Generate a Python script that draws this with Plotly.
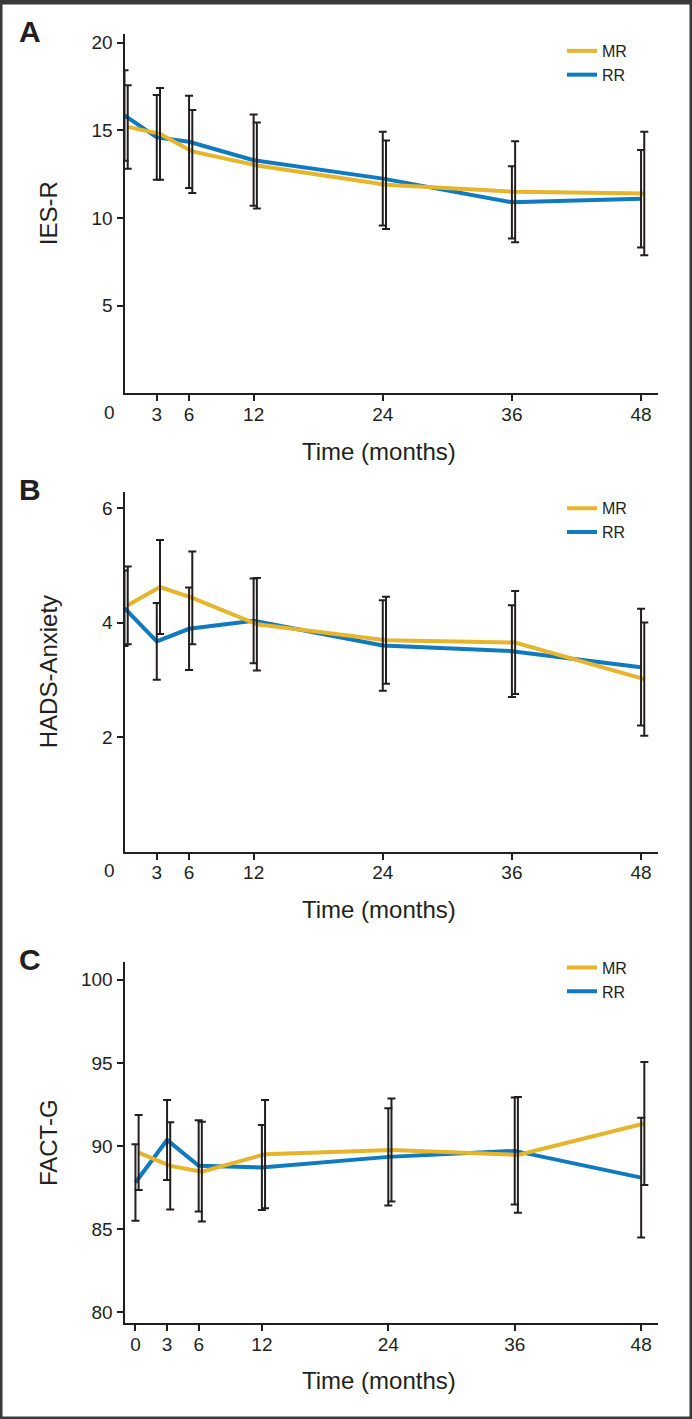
import plotly.graph_objects as go

# time points (months)
months = [0, 3, 6, 12, 24, 36, 48]

# A: IES-R
mr_ies = [15.2, 14.8, 13.8, 13.0, 11.9, 11.5, 11.4]
mr_ies_err = [2.38, 2.62, 2.37, 2.45, 2.52, 2.88, 3.52]
rr_ies = [15.85, 14.6, 14.35, 13.3, 12.25, 10.9, 11.1]
rr_ies_err = [2.58, 2.42, 2.63, 2.6, 2.67, 2.06, 2.78]

# B: HADS-Anxiety
mr_hads = [4.30, 4.62, 4.43, 3.97, 3.69, 3.65, 3.01]
mr_hads_err = [0.68, 0.82, 0.81, 0.81, 0.76, 0.90, 0.99]
rr_hads = [4.25, 3.67, 3.89, 4.03, 3.60, 3.50, 3.22]
rr_hads_err = [0.66, 0.67, 0.72, 0.74, 0.79, 0.80, 1.02]

# C: FACT-G
mr_fact = [89.6, 88.8, 88.45, 89.5, 89.76, 89.46, 91.35]
mr_fact_err = [2.26, 2.63, 3.0, 3.26, 3.1, 3.48, 3.7]
rr_fact = [87.8, 90.36, 88.8, 88.7, 89.34, 89.7, 88.09]
rr_fact_err = [2.3, 2.41, 2.75, 2.56, 2.93, 3.22, 3.6]

W, H = 692, 1419
FONT = 'Liberation Sans, Arial, sans-serif'
INK = '#231f20'
YELLOW = '#e6b52c'
BLUE = '#0f7abf'
MR_SHIFT = 0.3  # MR drawn slightly right of RR so the bars don't overlap


def fx(x):
    return x / W


def fy(y):
    return 1 - y / H


panels = [
    dict(name='A', title='IES-R', mr=mr_ies, mr_err=mr_ies_err, rr=rr_ies, rr_err=rr_ies_err,
         top=32, bottom=392, yrange=[0, 20.5], yticks=[5, 10, 15, 20],
         xrange=[0, 49.53], xticks=[3, 6, 12, 24, 36, 48], zero_label=True,
         leg_top=32),
    dict(name='B', title='HADS-Anxiety', mr=mr_hads, mr_err=mr_hads_err, rr=rr_hads, rr_err=rr_hads_err,
         top=490.7, bottom=850.7, yrange=[0, 6.28], yticks=[2, 4, 6],
         xrange=[0, 49.53], xticks=[3, 6, 12, 24, 36, 48], zero_label=True,
         leg_top=490),
    dict(name='C', title='FACT-G', mr=mr_fact, mr_err=mr_fact_err, rr=rr_fact, rr_err=rr_fact_err,
         top=961.7, bottom=1322.7, yrange=[79.35, 101.05], yticks=[80, 85, 90, 95, 100],
         xrange=[-1.04, 49.55], xticks=[0, 3, 6, 12, 24, 36, 48], zero_label=False,
         leg_top=950),
]

fig = go.Figure()
annotations = []
layout = {}

for i, p in enumerate(panels):
    n = '' if i == 0 else str(i + 1)
    xa, ya, leg = 'x' + n, 'y' + n, 'legend' + n
    mr_x = [m + MR_SHIFT for m in months]

    fig.add_trace(go.Scatter(x=months, y=p['rr'], mode='lines', name='RR',
                             line=dict(color=BLUE, width=4), xaxis=xa, yaxis=ya,
                             legend=leg, legendrank=2))
    fig.add_trace(go.Scatter(x=mr_x, y=p['mr'], mode='lines', name='MR',
                             line=dict(color=YELLOW, width=4), xaxis=xa, yaxis=ya,
                             legend=leg, legendrank=1))
    # error bars on top of the lines
    for xs, ys, err in [(months, p['rr'], p['rr_err']), (mr_x, p['mr'], p['mr_err'])]:
        fig.add_trace(go.Scatter(x=xs, y=ys, mode='markers', marker=dict(size=1, opacity=0),
                                 error_y=dict(type='data', array=err, color=INK, thickness=2, width=4),
                                 xaxis=xa, yaxis=ya, showlegend=False, hoverinfo='skip'))

    axis_common = dict(showline=True, linecolor=INK, linewidth=2, ticks='outside', ticklen=6,
                       tickwidth=1.5, tickcolor=INK, showgrid=False, zeroline=False,
                       tickfont=dict(family=FONT, size=19, color=INK))
    layout['xaxis' + n] = dict(axis_common, domain=[fx(124.5), fx(657.5)], anchor=ya,
                               range=p['xrange'], tickvals=p['xticks'], ticklabelstandoff=-3)
    layout['yaxis' + n] = dict(axis_common, domain=[fy(p['bottom']), fy(p['top'])], anchor=xa,
                               range=p['yrange'], tickvals=p['yticks'])
    layout[leg] = dict(x=fx(562), y=fy(p['leg_top']), xanchor='left', yanchor='top',
                       bgcolor='rgba(0,0,0,0)', tracegroupgap=0, traceorder='normal',
                       font=dict(family=FONT, size=16, color=INK))

    # panel letter
    annotations.append(dict(text='<b>%s</b>' % p['name'], x=fx(30), y=fy(p['top'] - 2.5)))
    # y title
    annotations.append(dict(text=p['title'], x=fx(48.5), y=fy((p['top'] + p['bottom']) / 2),
                            textangle=-90, font=dict(family=FONT, size=24, color=INK)))
    # x title
    annotations.append(dict(text='Time (months)', x=fx(379), y=fy(p['bottom'] + 58),
                            font=dict(family=FONT, size=24, color=INK)))
    if p['zero_label']:
        annotations.append(dict(text='0', x=fx(109), y=fy(p['bottom'] + 19.5),
                                font=dict(family=FONT, size=19, color=INK)))

for a in annotations:
    a.setdefault('font', dict(family=FONT, size=30, color=INK))
    a.update(xref='paper', yref='paper', showarrow=False, xanchor='center', yanchor='middle')

fig.update_layout(**layout)
fig.update_layout(
    width=W, height=H,
    margin=dict(l=0, r=0, t=0, b=0),
    paper_bgcolor='white', plot_bgcolor='white',
    annotations=annotations,
    shapes=[dict(type='rect', xref='paper', yref='paper', x0=0, x1=1, y0=0, y1=1,
                 line=dict(color='#3a3a3a', width=5))],
)

fig.write_html('out.html', config={'displayModeBar': False},
               post_script="document.body.style.margin='0';")
